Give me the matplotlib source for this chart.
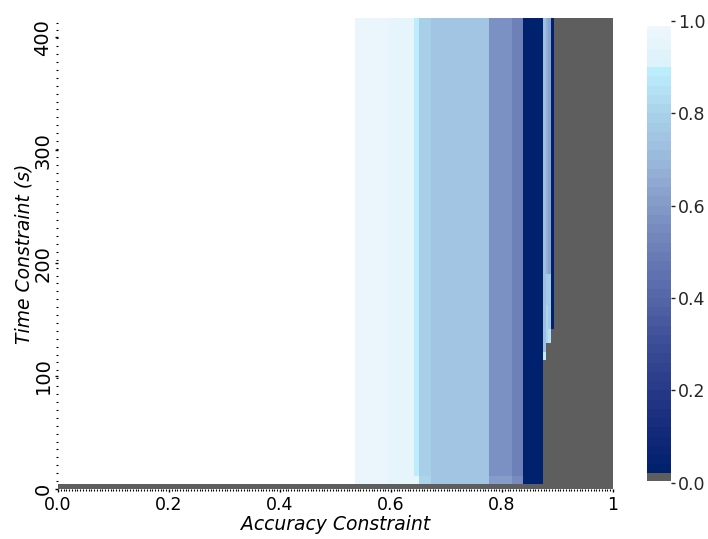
import numpy as np
import matplotlib
matplotlib.use("Agg")
import matplotlib.pyplot as plt
from matplotlib.colors import LinearSegmentedColormap, Normalize
from matplotlib.ticker import MultipleLocator, FixedLocator

# ---- data -------------------------------------------------------------
# Cell edges along the accuracy-constraint axis
acc_edges = [0.0, 0.535, 0.595, 0.641, 0.650, 0.672, 0.777, 0.818,
             0.838, 0.874, 0.879, 0.883, 0.888, 0.894, 1.0]
# Cell edges along the time-constraint axis (seconds)
time_edges = [0, 4.4, 11.5, 114, 121, 129, 142, 163, 190, 417]

# Score per cell (rows = time bands bottom->top, cols = accuracy bands).
# nan = no configuration evaluated, -1 = constraints infeasible.
nan = np.nan
score_rows = [
    [-1, -1, -1, -1, -1, -1, -1, -1, -1, -1, -1, -1, -1, -1],
    [nan, .97, .95, .95, .82, .75, .61, .54, .03, -1, -1, -1, -1, -1],
    [nan, .97, .95, .89, .79, .74, .57, .50, .03, -1, -1, -1, -1, -1],
    [nan, .97, .95, .89, .79, .74, .57, .50, .03, .88, -1, -1, -1, -1],
    [nan, .97, .95, .89, .79, .74, .57, .50, .03, .73, -1, -1, -1, -1],
    [nan, .97, .95, .89, .79, .74, .57, .50, .03, .73, .82, .85, -1, -1],
    [nan, .97, .95, .89, .79, .74, .57, .50, .03, .73, .82, .76, .03, -1],
    [nan, .97, .95, .89, .79, .74, .57, .50, .03, .73, .77, .76, .03, -1],
    [nan, .97, .95, .89, .79, .74, .57, .50, .03, .73, .66, .62, .03, -1],
]

x_tick_vals = [0.0, 0.2, 0.4, 0.6, 0.8, 1.0]
x_tick_labels = ["0.0", "0.2", "0.4", "0.6", "0.8", "1"]
y_tick_vals = [0, 100, 200, 300, 400]
cbar_tick_vals = [0.0, 0.2, 0.4, 0.6, 0.8, 1.0]

# ---- colour map -------------------------------------------------------
vmin, vmax = 0.02, 1.0
anchors = [(0.02, "#00216e"), (0.10, "#13297a"), (0.20, "#283a88"),
           (0.30, "#3d4e98"), (0.40, "#5566a8"), (0.50, "#6a7db5"),
           (0.60, "#8399c8"), (0.70, "#99b7db"), (0.80, "#a9d0e9"),
           (0.898, "#bcedfd"), (0.902, "#d9f1fa"), (1.00, "#eff7fb")]
cmap = LinearSegmentedColormap.from_list(
    "score", [((v - vmin) / (vmax - vmin), c) for v, c in anchors], N=49)
cmap.set_under("#5e5e5e")
cmap.set_bad((1, 1, 1, 0))
norm = Normalize(vmin=vmin, vmax=vmax)

# ---- figure -----------------------------------------------------------
fig = plt.figure(figsize=(7.08, 5.39), dpi=100)
ax = fig.add_axes([58 / 708, 50 / 539, 555 / 708, 471 / 539])

Z = np.ma.masked_invalid(np.array(score_rows, dtype=float))
ax.pcolormesh(acc_edges, time_edges, Z, cmap=cmap, norm=norm,
              shading="flat", edgecolors="none", antialiased=False)

ax.set_xlim(0, 1)
ax.set_ylim(time_edges[0], time_edges[-1])
for s in ax.spines.values():
    s.set_visible(False)

ax.xaxis.set_major_locator(FixedLocator(x_tick_vals))
ax.set_xticklabels(x_tick_labels)
ax.xaxis.set_minor_locator(MultipleLocator(0.005))
ax.yaxis.set_major_locator(FixedLocator(y_tick_vals))
ax.yaxis.set_minor_locator(MultipleLocator(7))
ax.tick_params(axis="both", which="major", length=2, width=1,
               color="black", labelcolor="black")
ax.tick_params(axis="both", which="minor", length=1.5, width=0.8,
               color="black")
ax.tick_params(axis="x", which="major", labelsize=12.5, pad=3)
ax.tick_params(axis="y", which="major", labelsize=14, pad=2)
for lab in ax.get_yticklabels():
    lab.set_rotation(90)
    lab.set_va("center")

ax.set_xlabel("Accuracy Constraint", fontsize=13.5, style="italic",
              labelpad=1)
ax.set_ylabel("Time Constraint (s)", fontsize=13.5, style="italic",
              labelpad=0)

# ---- colour bar -------------------------------------------------------
cax = fig.add_axes([647 / 708, (539 - 482.7) / 539, 24 / 708, 461.7 / 539])
band_edges = np.concatenate([[0.004], np.linspace(vmin, vmax, 50)])
band_edges[-1] = 0.989
band_vals = 0.5 * (band_edges[:-1] + band_edges[1:])
cax.pcolormesh([0, 1], band_edges, band_vals[:, None], cmap=cmap, norm=norm,
               shading="flat", edgecolors="none", antialiased=False)
cax.set_xlim(0, 1)
cax.set_ylim(0, 1)
for s in cax.spines.values():
    s.set_visible(False)
cax.set_xticks([])
cax.yaxis.tick_right()
cax.set_yticks(cbar_tick_vals)
cax.set_yticklabels([f"{v:.1f}" for v in cbar_tick_vals])
cax.tick_params(axis="y", length=3, width=1, color="#262626",
                labelsize=12.5, labelcolor="#262626", pad=2)

fig.savefig("out.png", dpi=100)
